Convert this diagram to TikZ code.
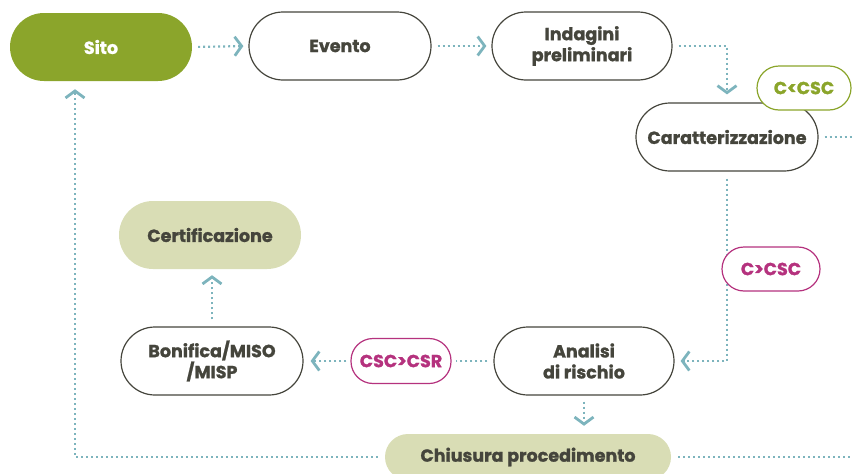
\documentclass[tikz,border=0pt]{standalone}
\usepackage{fontspec}
\setmainfont{Poppins}[BoldFeatures={FakeBold=1.2}]
\usetikzlibrary{arrows.meta}
\definecolor{olive}{HTML}{8BA52B}
\definecolor{lolive}{HTML}{D9DDB5}
\definecolor{teal}{HTML}{7DB4BD}
\definecolor{dark}{HTML}{45453C}
\definecolor{mag}{HTML}{B5327E}
\tikzset{
  base/.style={rectangle, rounded corners=34pt, minimum width=182pt, minimum height=68pt,
    align=center, text=dark, font=\fontsize{17.5}{21}\selectfont\bfseries, inner sep=0pt},
  stepbox/.style={base, draw=dark, line width=1.2pt, fill=white},
  sitobox/.style={base, fill=olive, text=white},
  lightbox/.style={base, fill=lolive},
  tagbox/.style={rectangle, rounded corners=22pt, minimum height=44pt, fill=white,
    line width=1.2pt, font=\fontsize{17.5}{21}\selectfont\bfseries, inner sep=0pt},
  dotline/.style={draw=teal, line width=2.2pt, dash pattern=on 2pt off 3pt},
  arr/.style={dotline, -{Straight Barb[length=7pt,width=19pt,line width=2.8pt]}},
}
\begin{document}
\begin{tikzpicture}[x=1pt,y=-1pt]
\useasboundingbox (0,0) rectangle (852,474);
\clip (0,0) rectangle (852,474);
\node[sitobox] (sito) at (101,47) {Sito};
\node[stepbox] (evento) at (340,46) {Evento};
\node[stepbox, minimum width=180pt] (indag) at (582,46) {Indagini\\preliminari};
\node[stepbox] (caratt) at (727,137) {Caratterizzazione};
\node[tagbox, draw=olive, text=olive, minimum width=94pt] (cless) at (804,88) {C<CSC};
\node[stepbox, minimum width=180pt] (analisi) at (584,361) {Analisi\\di rischio};
\node[stepbox] (bonifica) at (212,361) {Bonifica/MISO\\/MISP};
\node[lightbox] (cert) at (210,235) {Certificazione};
\node[lightbox, minimum width=286pt, minimum height=46pt, rounded corners=23pt] (chius) at (528,457) {Chiusura procedimento};
\coordinate (rcar) at (852,137);
\coordinate (rchi) at (852,457);

\draw[arr, shorten <=6pt, shorten >=5pt] (sito.east) -- (evento.west);
\draw[arr, shorten <=6pt, shorten >=5pt] (evento.east) -- (indag.west);
\draw[arr, shorten <=6pt, shorten >=8pt] (indag.east) -| (caratt.north);
\draw[dotline, shorten <=6pt] (caratt.east) -- (rcar);
\draw[arr, shorten <=7pt, shorten >=6pt] (caratt.south) |- (analisi.east);
\node[tagbox, draw=mag, text=mag, minimum width=98pt] (cgreat) at (771,269) {C>CSC};
\node[tagbox, draw=mag, text=mag, minimum width=100pt, minimum height=45pt] (csr) at (401,361) {CSC>CSR};
\draw[dotline, shorten <=6pt, shorten >=4pt] (analisi.west) -- (csr.east);
\draw[arr, shorten <=4pt, shorten >=7pt] (csr.west) -- (bonifica.east);
\draw[arr, shorten <=7pt, shorten >=6pt] (bonifica.north) -- (bonifica.north |- cert.south);
\draw[arr, shorten <=6pt, shorten >=8pt] (analisi.south) -- (analisi.south |- chius.north);
\draw[dotline, shorten <=7pt] (chius.east) -- (rchi);
\draw[arr, shorten <=7pt, shorten >=8pt] (chius.west) -| ([xshift=-26pt]sito.south);
\end{tikzpicture}
\end{document}
